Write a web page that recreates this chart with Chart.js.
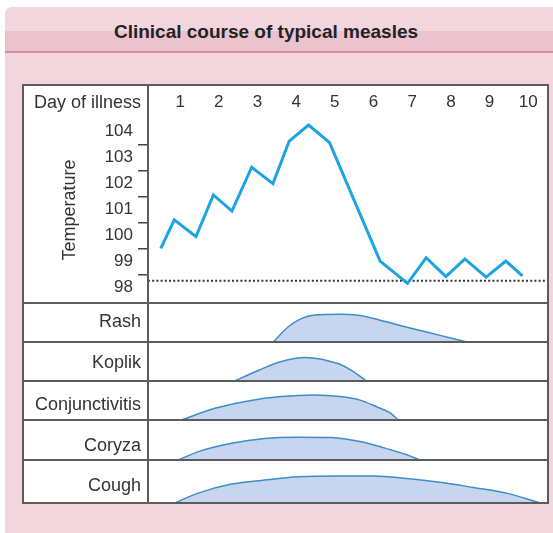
<!DOCTYPE html>
<html><head><meta charset="utf-8">
<script src="https://cdn.jsdelivr.net/npm/chart.js@4.4.0/dist/chart.umd.min.js"></script>
<style>
html,body{margin:0;padding:0;background:#fff;width:553px;height:533px;overflow:hidden;font-family:"Liberation Sans",Arial,Helvetica,sans-serif;}
#panel{position:absolute;left:5px;top:7px;width:548px;height:526px;background:#f3d5de;border-top-left-radius:7px;}
#band{position:absolute;left:5px;top:31px;width:548px;height:20px;background:#ebc3cd;}
#bandline{position:absolute;left:5px;top:51px;width:548px;height:2px;background:#cf8ea4;}
#title{position:absolute;left:0;width:532px;top:20px;text-align:center;font-weight:bold;font-size:19px;color:#222;line-height:24px;}
#box{position:absolute;left:23px;top:85px;width:525px;height:418px;background:#fff;}
canvas{position:absolute;}
.hl{position:absolute;left:22px;width:527px;height:2px;background:#5c5c5c;}
#outer{position:absolute;left:22px;top:84px;width:527px;height:420px;border:2px solid #5c5c5c;box-sizing:border-box;}
#divider{position:absolute;left:147px;top:84px;width:2px;height:420px;background:#5c5c5c;}
.lab{position:absolute;left:23px;width:118px;text-align:right;font-size:18px;line-height:22px;color:#333;white-space:nowrap;}
</style></head>
<body>
<div id="panel"></div>
<div id="band"></div>
<div id="bandline"></div>
<div id="title">Clinical course of typical measles</div>
<div id="box"></div>
<canvas id="temp" width="525" height="217" style="left:23px;top:85px;width:525px;height:217px"></canvas>
<div id="rows"></div>
<div id="lines"></div>
<div class="lab" style="top:91px">Day of illness</div>
<script>
// ---- data ----
const DAYS = [1, 2, 3, 4, 5, 6, 7, 8, 9, 10];
const TEMP_LABELS = [98, 99, 100, 101, 102, 103, 104];
const TEMP_DAY   = [0.50, 0.85, 1.41, 1.86, 2.34, 2.85, 3.40, 3.82, 4.32, 4.86, 6.17, 6.88, 7.36, 7.87, 8.36, 8.91, 9.42, 9.85];
const TEMP_VALUE = [99.50, 100.60, 99.95, 101.56, 100.94, 102.63, 102.00, 103.64, 104.26, 103.59, 99.01, 98.15, 99.14, 98.41, 99.09, 98.39, 99.01, 98.44];
const NORMAL_TEMP = 98.25;

const SYMPTOMS = ['Rash', 'Koplik', 'Conjunctivitis', 'Coryza', 'Cough'];
const RASH_DAY   = [3.41, 3.79, 4.13, 4.48, 5.10, 5.65, 6.17, 6.86, 7.72, 8.41];
const RASH_LEVEL = [0, 0.385, 0.60, 0.69, 0.71, 0.68, 0.56, 0.38, 0.17, 0];
const KOPLIK_DAY   = [2.41, 3.02, 3.62, 4.22, 4.65, 4.88, 5.13, 5.45, 5.82];
const KOPLIK_LEVEL = [0, 0.27, 0.50, 0.60, 0.56, 0.50, 0.43, 0.26, 0];
const CONJ_DAY   = [1.03, 1.90, 2.76, 3.62, 4.48, 5.13, 5.65, 6.08, 6.43, 6.64];
const CONJ_LEVEL = [0, 0.30, 0.49, 0.60, 0.64, 0.60, 0.51, 0.34, 0.18, 0];
const CORYZA_DAY   = [0.95, 1.47, 2.33, 3.19, 4.05, 4.91, 5.65, 6.25, 6.86, 7.20];
const CORYZA_LEVEL = [0, 0.21, 0.42, 0.54, 0.57, 0.56, 0.46, 0.31, 0.13, 0];
const COUGH_DAY   = [0.86, 1.47, 2.33, 3.19, 4.05, 5.13, 6.00, 6.86, 7.72, 8.58, 9.44, 10.30];
const COUGH_LEVEL = [0, 0.23, 0.44, 0.535, 0.61, 0.63, 0.63, 0.57, 0.48, 0.36, 0.23, 0];
const SYMPTOM_DAYS = [RASH_DAY, KOPLIK_DAY, CONJ_DAY, CORYZA_DAY, COUGH_DAY];
const SYMPTOM_LEVELS = [RASH_LEVEL, KOPLIK_LEVEL, CONJ_LEVEL, CORYZA_LEVEL, COUGH_LEVEL];

// ---- layout / style ----
const X_MIN = 0.17, X_MAX = 10.51;
const Y_MIN = 97.43, Y_MAX = 104.53;
const ROW_TOP = [303, 342, 381, 420, 460];
const ROW_H = [39, 39, 39, 40, 43];
const LABEL_TOP = [310, 351, 393, 434, 474];
const LINE_TOP = [302, 341, 380, 419, 459];

Chart.defaults.font.family = '"Liberation Sans", Arial, Helvetica, sans-serif';
Chart.defaults.color = '#333';

const pts = (xs, ys) => xs.map((x, i) => ({x: x, y: ys[i]}));
const halfTicks = [];
TEMP_LABELS.forEach((v, i) => { halfTicks.push(v); if (i < TEMP_LABELS.length - 1) halfTicks.push(v + 0.5); });
const noPad = s => { s.paddingTop = 0; s.paddingBottom = 0; s.paddingLeft = 0; s.paddingRight = 0; };

new Chart(document.getElementById('temp'), {
  type: 'line',
  data: {
    datasets: [
      {data: pts(TEMP_DAY, TEMP_VALUE), borderColor: '#1ba3e2', borderWidth: 3, pointRadius: 0, tension: 0, fill: false, borderJoinStyle: 'miter'},
      {data: pts([X_MIN, X_MAX], [NORMAL_TEMP, NORMAL_TEMP]), borderColor: '#333', borderWidth: 2, borderDash: [2, 2.2], pointRadius: 0, fill: false}
    ]
  },
  options: {
    responsive: false, animation: false, devicePixelRatio: 1,
    layout: {padding: 0, autoPadding: false},
    plugins: {legend: {display: false}, tooltip: {enabled: false}},
    scales: {
      x: {
        type: 'linear', position: 'top', min: X_MIN, max: X_MAX,
        afterBuildTicks: s => { s.ticks = DAYS.map(v => ({value: v})); },
        afterFit: s => { s.height = 33; noPad(s); },
        grid: {display: false, drawTicks: false}, border: {display: false},
        ticks: {padding: 5, font: {size: 17}, color: '#333', autoSkip: false, maxRotation: 0}
      },
      y: {
        type: 'linear', position: 'left', min: Y_MIN, max: Y_MAX,
        afterBuildTicks: s => { s.ticks = halfTicks.map(v => ({value: v})); },
        afterFit: s => { s.width = 125; noPad(s); },
        grid: {drawOnChartArea: false, drawTicks: true, tickLength: 10, lineWidth: 1.5,
               color: c => (c.tick && Number.isInteger(c.tick.value)) ? 'rgba(0,0,0,0)' : '#444'},
        border: {display: false},
        ticks: {padding: 5, font: {size: 17}, color: '#333', autoSkip: false,
                callback: v => Number.isInteger(v) ? String(v) : ''},
        title: {display: true, text: 'Temperature', font: {size: 18}, color: '#333', padding: {top: 36, bottom: 0}}
      }
    }
  }
});

const rowsDiv = document.getElementById('rows');
const linesDiv = document.getElementById('lines');
SYMPTOMS.forEach((name, i) => {
  const cv = document.createElement('canvas');
  cv.width = 400; cv.height = ROW_H[i];
  cv.style.left = '148px'; cv.style.top = ROW_TOP[i] + 'px';
  cv.style.width = '400px'; cv.style.height = ROW_H[i] + 'px';
  rowsDiv.appendChild(cv);
  new Chart(cv, {
    type: 'line',
    data: {datasets: [{
      data: pts(SYMPTOM_DAYS[i], SYMPTOM_LEVELS[i]),
      borderColor: '#3b8ec6', borderWidth: 1.5, backgroundColor: '#c7d5ef',
      fill: 'origin', pointRadius: 0, cubicInterpolationMode: 'monotone'
    }]},
    options: {
      responsive: false, animation: false, devicePixelRatio: 1,
      layout: {padding: 0, autoPadding: false},
      plugins: {legend: {display: false}, tooltip: {enabled: false}},
      scales: {
        x: {type: 'linear', min: X_MIN, max: X_MAX, display: false},
        y: {type: 'linear', min: 0, max: 1, display: false}
      }
    }
  });
  const lab = document.createElement('div');
  lab.className = 'lab'; lab.style.top = LABEL_TOP[i] + 'px'; lab.textContent = name;
  document.body.appendChild(lab);
  const hl = document.createElement('div');
  hl.className = 'hl'; hl.style.top = LINE_TOP[i] + 'px';
  linesDiv.appendChild(hl);
});
const outer = document.createElement('div'); outer.id = 'outer'; linesDiv.appendChild(outer);
const dv = document.createElement('div'); dv.id = 'divider'; linesDiv.appendChild(dv);
</script>
</body></html>
